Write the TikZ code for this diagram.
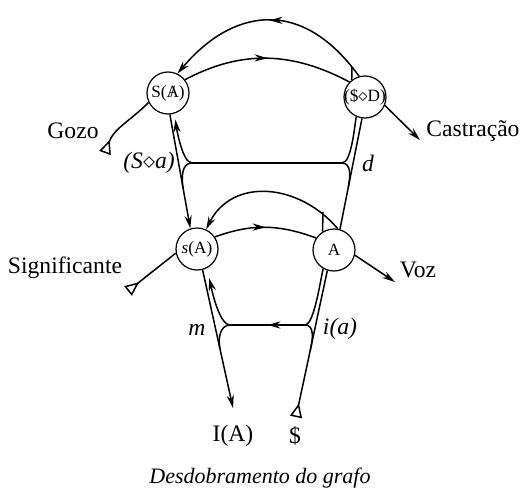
\documentclass[tikz,border=0pt]{standalone}
\usepackage{fontspec}
\setmainfont{Liberation Serif}
\usepackage{tikz}
\usetikzlibrary{arrows.meta, decorations.markings}

\newcommand{\barA}{\ooalign{A\cr\hidewidth/\hidewidth}}

\begin{document}
\begin{tikzpicture}[x=0.5pt, y=0.5pt, line width=0.75pt,
    vertex/.style={circle, draw, line width=0.6pt, minimum size=21pt, inner sep=0pt,
                   font=\fontsize{8.6}{10}\selectfont},
    lbl/.style={font=\fontsize{11.8}{14}\selectfont},
    vec/.style={-{Stealth[length=6.5pt, width=3.6pt]}},
    src/.style={{Triangle[open, reversed, length=7pt, width=6pt]}-},
    midarrow/.style={postaction={decorate, decoration={markings,
        mark=at position #1 with {\arrow{Stealth[length=6.5pt, width=3.6pt]}}}}}
  ]
  \useasboundingbox (0,0) rectangle (520,489);

  \node[vertex] (SA) at (168,396) {\makebox[0pt]{S(\barA)}};
  \node[vertex] (SD) at (365,392) {\makebox[0pt]{(\$$\diamond$D)}};
  \node[vertex] (sA) at (197,240) {\textit{s}(A)};
  \node[vertex] (A)  at (334,239) {A};

  \coordinate (tD) at (352,422);
  \coordinate (tA) at (323,277);
  \coordinate (L1) at (192,326);
  \coordinate (R1) at (342,326);
  \coordinate (L2) at (230,164);
  \coordinate (R2) at (305,164);
  \coordinate (gozoT) at (105,336);
  \coordinate (castT) at (420,349);
  \coordinate (sigT) at (128,198);
  \coordinate (vozT) at (395,207);
  \coordinate (IAT) at (233,81);
  \coordinate (barST) at (296,72);

  % upper level
  \draw[vec, midarrow=0.5] (SD.106) .. controls +(-60,83) and +(52,62) .. (SA.64);
  \draw (tD) -- (SD.128);
  \draw[midarrow=0.5] (SA.38) to[out=28, in=152] (SD.136);
  \draw[vec] (SA.275) -- coordinate[pos=0.65] (jL1) (sA.108);
  \draw (SD.262) -- coordinate[pos=0.62] (jR1) (A.74);
  \draw (L1) -- (R1);
  \draw[vec, shorten >=3pt] (L1) to[out=180, in=-83, looseness=0.5] (SA.288);
  \draw (L1) to[out=180, in=100] (jL1);
  \draw (R1) to[out=0, in=-100, looseness=0.5] (SD.246);
  \draw (R1) to[out=0, in=79] (jR1);

  % lower level
  \draw[vec] (A.80) .. controls +(-39,46) and +(26,52) .. (sA.65);
  \draw (tA) -- (A.122);
  \draw[midarrow=0.5] (sA.34) to[out=20, in=160] (A.146);
  \draw[vec] (sA.285) -- coordinate[pos=0.57] (jL2) (IAT);
  \draw[src] (barST) -- coordinate[pos=0.455] (jR2) (A.252);
  \draw[midarrow=0.5] (R2) -- (L2);
  \draw[vec, shorten >=5pt] (L2) to[out=180, in=-75, looseness=0.5] (sA.296);
  \draw (L2) to[out=180, in=102] (jL2);
  \draw (R2) to[out=0, in=-105, looseness=0.4] (A.240);
  \draw (R2) to[out=0, in=77] (jR2);

  % side vectors
  \draw[src] (gozoT) to[out=70, in=225] (SA.206);
  \draw[vec] (SD.-23) -- (castT);
  \draw[src] (sigT) -- (sA.191);
  \draw[vec] (A.-14) -- (vozT);

  % labels
  \node[lbl] (gozo) at (73,358) {Gozo};
  \node[lbl] (castr) at (473,358) {Castração};
  \node[lbl] (signif) at (65,221) {Significante};
  \node[lbl] (voz) at (418,219) {Voz};
  \node[lbl] (Sa) at (149,326) {\textit{(S}$\diamond$\textit{a)}};
  \node[lbl] (dlbl) at (368,326) {\textit{d}};
  \node[lbl] (mlbl) at (197,159) {\textit{m}};
  \node[lbl] (ialbl) at (340,160) {\textit{i(a)}};
  \node[lbl] (IA) at (233,53) {I(A)};
  \node[lbl] (barS) at (295,53) {\$};
  \node[font=\fontsize{11}{13}\selectfont] (caption) at (260,11) {\textit{Desdobramento do grafo}};
\end{tikzpicture}
\end{document}
